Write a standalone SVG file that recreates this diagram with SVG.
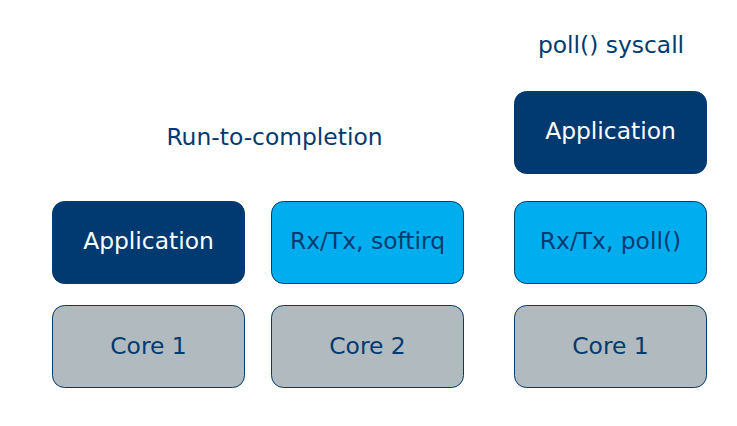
<svg xmlns="http://www.w3.org/2000/svg" width="737" height="426" viewBox="0 0 737 426">
<style>
text{font-family:"DejaVu Sans",sans-serif;font-size:23.4px;text-anchor:middle;dominant-baseline:central}
.dark{fill:#003a70;stroke:#003a70;stroke-width:1}
.blue{fill:#00aeef;stroke:#003a70;stroke-width:1}
.gray{fill:#b1babf;stroke:#003a70;stroke-width:1}
.wt{fill:#ffffff}
.nt{fill:#003a70}
</style>
<rect width="737" height="426" fill="#ffffff"/>
<text class="nt" x="274.5" y="137">Run-to-completion</text>
<text class="nt" x="611" y="45">poll() syscall</text>
<g id="app1"><rect class="dark" x="52.5" y="201.5" width="192" height="82" rx="12"/><text class="wt" x="148.5" y="241">Application</text></g>
<g id="core1a"><rect class="gray" x="52.5" y="305.5" width="192" height="82" rx="12"/><text class="nt" x="148.5" y="346">Core 1</text></g>
<g id="rxtx1"><rect class="blue" x="271.5" y="201.5" width="192" height="82" rx="12"/><text class="nt" x="367.5" y="241">Rx/Tx, softirq</text></g>
<g id="core2"><rect class="gray" x="271.5" y="305.5" width="192" height="82" rx="12"/><text class="nt" x="367.5" y="346">Core 2</text></g>
<g id="app2"><rect class="dark" x="514.5" y="91.5" width="192" height="82" rx="12"/><text class="wt" x="610.5" y="131">Application</text></g>
<g id="rxtx2"><rect class="blue" x="514.5" y="201.5" width="192" height="82" rx="12"/><text class="nt" x="610.5" y="241">Rx/Tx, poll()</text></g>
<g id="core1b"><rect class="gray" x="514.5" y="305.5" width="192" height="82" rx="12"/><text class="nt" x="610.5" y="346">Core 1</text></g>
<g id="connectors"/>
</svg>
